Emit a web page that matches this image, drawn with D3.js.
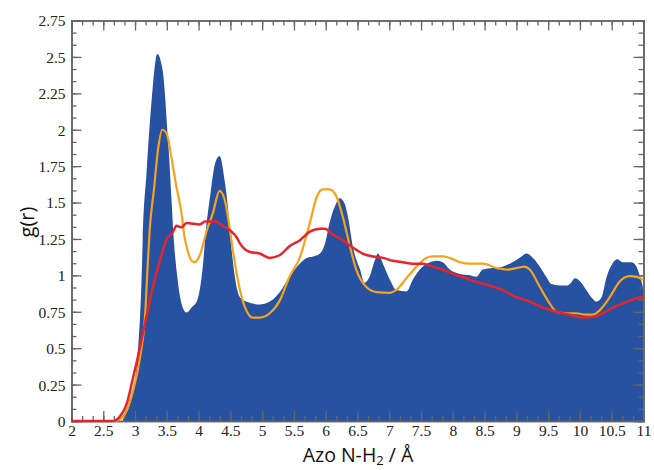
<!DOCTYPE html>
<html>
<head>
<meta charset="utf-8">
<script src="https://cdn.jsdelivr.net/npm/d3@7"></script>
<style>
  html, body { margin: 0; padding: 0; background: #fff; }
  svg { display: block; }
</style>
</head>
<body>
<svg id="chart" width="654" height="470"></svg>
<script>
// Radial distribution functions, Azo N – H2 distance (Å)
const blueR = [2, 2.8, 2.82, 2.92, 3.03, 3.11, 3.12, 3.18, 3.26, 3.35, 3.43, 3.52, 3.58, 3.60, 3.67, 3.75, 3.81, 3.89, 3.97, 4.07, 4.11, 4.18, 4.26, 4.33, 4.41, 4.46, 4.49, 4.65, 4.75, 4.96, 5.12, 5.27, 5.43, 5.59, 5.70, 5.80, 5.91, 5.99, 6.06, 6.14, 6.22, 6.30, 6.35, 6.43, 6.54, 6.61, 6.69, 6.77, 6.82, 6.90, 7.01, 7.11, 7.27, 7.37, 7.48, 7.64, 7.74, 7.84, 7.95, 8.11, 8.27, 8.37, 8.47, 8.63, 8.78, 8.94, 9.08, 9.16, 9.26, 9.37, 9.47, 9.55, 9.68, 9.79, 9.86, 9.92, 10.0, 10.10, 10.20, 10.26, 10.34, 10.42, 10.51, 10.59, 10.67, 10.81, 10.89, 10.94, 10.99, 11];
const blueG = [0, 0, 0.02, 0.12, 0.40, 1.08, 1.24, 1.70, 2.20, 2.52, 2.42, 1.93, 1.47, 1.31, 0.97, 0.78, 0.745, 0.78, 0.82, 1.08, 1.29, 1.54, 1.77, 1.82, 1.65, 1.47, 1.31, 0.85, 0.82, 0.80, 0.82, 0.88, 0.99, 1.08, 1.12, 1.13, 1.15, 1.22, 1.36, 1.47, 1.53, 1.49, 1.40, 1.19, 1.04, 0.95, 0.99, 1.10, 1.15, 1.08, 0.97, 0.90, 0.89, 0.97, 1.04, 1.09, 1.10, 1.09, 1.04, 1.01, 1.00, 0.99, 1.04, 1.05, 1.06, 1.09, 1.13, 1.15, 1.12, 1.06, 0.99, 0.94, 0.93, 0.93, 0.95, 0.98, 0.96, 0.90, 0.84, 0.82, 0.85, 0.99, 1.08, 1.11, 1.09, 1.09, 1.06, 1.00, 0.92, 0.90];

const orangeR = [2, 2.68, 2.76, 2.87, 2.97, 3.08, 3.16, 3.20, 3.23, 3.30, 3.36, 3.43, 3.50, 3.58, 3.65, 3.73, 3.78, 3.81, 3.89, 3.94, 4.02, 4.13, 4.22, 4.33, 4.41, 4.49, 4.54, 4.65, 4.75, 4.85, 4.96, 5.12, 5.28, 5.43, 5.59, 5.75, 5.86, 5.95, 6.06, 6.17, 6.27, 6.38, 6.48, 6.64, 6.80, 7.01, 7.11, 7.27, 7.43, 7.58, 7.68, 7.84, 7.95, 8.11, 8.27, 8.47, 8.69, 8.86, 9.00, 9.13, 9.21, 9.37, 9.52, 9.63, 9.79, 9.94, 10.10, 10.20, 10.31, 10.47, 10.62, 10.78, 10.89, 11];
const orangeG = [0, 0, 0.01, 0.075, 0.21, 0.44, 0.74, 1.08, 1.31, 1.60, 1.86, 2.00, 1.97, 1.79, 1.61, 1.43, 1.26, 1.20, 1.10, 1.09, 1.14, 1.31, 1.42, 1.58, 1.52, 1.32, 1.17, 0.90, 0.76, 0.71, 0.71, 0.74, 0.83, 0.99, 1.12, 1.36, 1.54, 1.59, 1.59, 1.54, 1.40, 1.20, 1.04, 0.92, 0.885, 0.88, 0.90, 0.98, 1.06, 1.12, 1.13, 1.13, 1.12, 1.09, 1.08, 1.08, 1.05, 1.04, 1.05, 1.06, 1.04, 0.92, 0.81, 0.75, 0.74, 0.74, 0.73, 0.73, 0.76, 0.85, 0.955, 0.995, 0.99, 0.97];

const redR = [2, 2.65, 2.76, 2.87, 2.97, 3.08, 3.18, 3.28, 3.39, 3.50, 3.60, 3.65, 3.73, 3.81, 4.02, 4.10, 4.26, 4.38, 4.52, 4.60, 4.65, 4.81, 4.96, 5.12, 5.28, 5.43, 5.59, 5.75, 5.91, 5.99, 6.11, 6.27, 6.43, 6.58, 6.74, 6.90, 7.06, 7.21, 7.37, 7.53, 7.68, 7.84, 8.00, 8.21, 8.37, 8.58, 8.78, 9.00, 9.21, 9.41, 9.63, 9.84, 10.04, 10.20, 10.36, 10.57, 10.78, 10.97, 11];
const redG = [0, 0, 0.03, 0.12, 0.30, 0.51, 0.72, 0.92, 1.10, 1.25, 1.30, 1.34, 1.33, 1.36, 1.35, 1.37, 1.37, 1.34, 1.30, 1.26, 1.22, 1.16, 1.15, 1.12, 1.14, 1.20, 1.24, 1.30, 1.32, 1.32, 1.28, 1.24, 1.19, 1.15, 1.13, 1.12, 1.10, 1.09, 1.08, 1.08, 1.06, 1.04, 1.01, 0.98, 0.955, 0.93, 0.90, 0.85, 0.82, 0.78, 0.75, 0.73, 0.71, 0.715, 0.74, 0.79, 0.825, 0.85, 0.85];

const xTicks = [2, 2.5, 3, 3.5, 4, 4.5, 5, 5.5, 6, 6.5, 7, 7.5, 8, 8.5, 9, 9.5, 10, 10.5, 11];
const yTicks = [0, 0.25, 0.5, 0.75, 1, 1.25, 1.5, 1.75, 2, 2.25, 2.5, 2.75];

const frame = { left: 71.5, right: 643.5, top: 20.5, bottom: 421 };
const svg = d3.select("#chart");

const x = d3.scaleLinear().domain([2, 11]).range([frame.left, frame.right]);
const y = d3.scaleLinear().domain([0, 2.75]).range([frame.bottom, frame.top]);

const zip = (a, b) => a.map((v, i) => [v, b[i]]);

// filled distribution
svg.append("path")
  .datum(zip(blueR, blueG))
  .attr("fill", "#2751a1")
  .attr("d", d3.area().x(d => x(d[0])).y0(y(0)).y1(d => y(d[1])).curve(d3.curveMonotoneX));

// axes frame with inward ticks, mirrored on top and right
const axisColor = "#666";
const minorX = d3.range(0, 55).map(i => 2 + i / 6).filter(v => v <= 11.0001);
const minorY = d3.range(0, 34).map(i => i / 12).filter(v => v <= 2.7501);

const gAx = svg.append("g");
function addAxis(axisFn, pos, values, size, labels, pad) {
  const isH = axisFn === d3.axisBottom || axisFn === d3.axisTop;
  const ax = axisFn(isH ? x : y).tickValues(values).tickSize(size);
  ax.tickFormat(labels ? d3.format("") : "");
  if (pad != null) ax.tickPadding(pad);
  return gAx.append("g")
    .attr("transform", isH ? `translate(0,${pos})` : `translate(${pos},0)`)
    .call(ax);
}
addAxis(d3.axisBottom, frame.bottom, minorX, -5, false);
const xLab = addAxis(d3.axisBottom, frame.bottom, xTicks, -10, true, 13);
addAxis(d3.axisTop, frame.top, minorX, -5, false);
addAxis(d3.axisTop, frame.top, xTicks, -10, false);
addAxis(d3.axisLeft, frame.left, minorY, -5, false);
const yLab = addAxis(d3.axisLeft, frame.left, yTicks, -10, true, 6);
addAxis(d3.axisRight, frame.right, minorY, -5, false);
addAxis(d3.axisRight, frame.right, yTicks, -10, false);

gAx.selectAll(".domain").attr("stroke", axisColor).attr("stroke-width", 1.6);
gAx.selectAll(".tick line").attr("stroke", axisColor).attr("stroke-width", 1.3);
gAx.selectAll(".tick text")
  .attr("fill", "#222")
  .style("font-family", "'Liberation Serif', 'DejaVu Serif', serif")
  .style("font-size", "15.5px");
yLab.selectAll(".tick text").attr("dy", "0.35em");
xLab.selectAll(".tick text").attr("dy", "0.15em");

// curves
const line = d3.line().x(d => x(d[0])).y(d => y(d[1])).curve(d3.curveMonotoneX);
svg.append("path").datum(zip(orangeR, orangeG))
  .attr("fill", "none").attr("stroke", "#f5a21d").attr("stroke-width", 2.2)
  .attr("stroke-linejoin", "round").attr("d", line);
svg.append("path").datum(zip(redR, redG))
  .attr("fill", "none").attr("stroke", "#e8232b").attr("stroke-width", 2.5)
  .attr("stroke-linejoin", "round").attr("d", line);

// axis titles
const title = svg.append("text")
  .attr("x", 358)
  .attr("y", 462)
  .attr("text-anchor", "middle")
  .attr("fill", "#111")
  .style("font-family", "'Open Sans', 'Liberation Sans', sans-serif")
  .style("font-size", "19.5px");
title.append("tspan").text("Azo N-H");
title.append("tspan").attr("dy", 3).style("font-size", "13px").text("2");
title.append("tspan").attr("dy", -3).text(" / Å");

svg.append("text")
  .attr("transform", "translate(34,222) rotate(-90)")
  .attr("text-anchor", "middle")
  .attr("fill", "#111")
  .style("font-family", "'Open Sans', 'Liberation Sans', sans-serif")
  .style("font-size", "20px")
  .text("g(r)");
</script>
</body>
</html>
